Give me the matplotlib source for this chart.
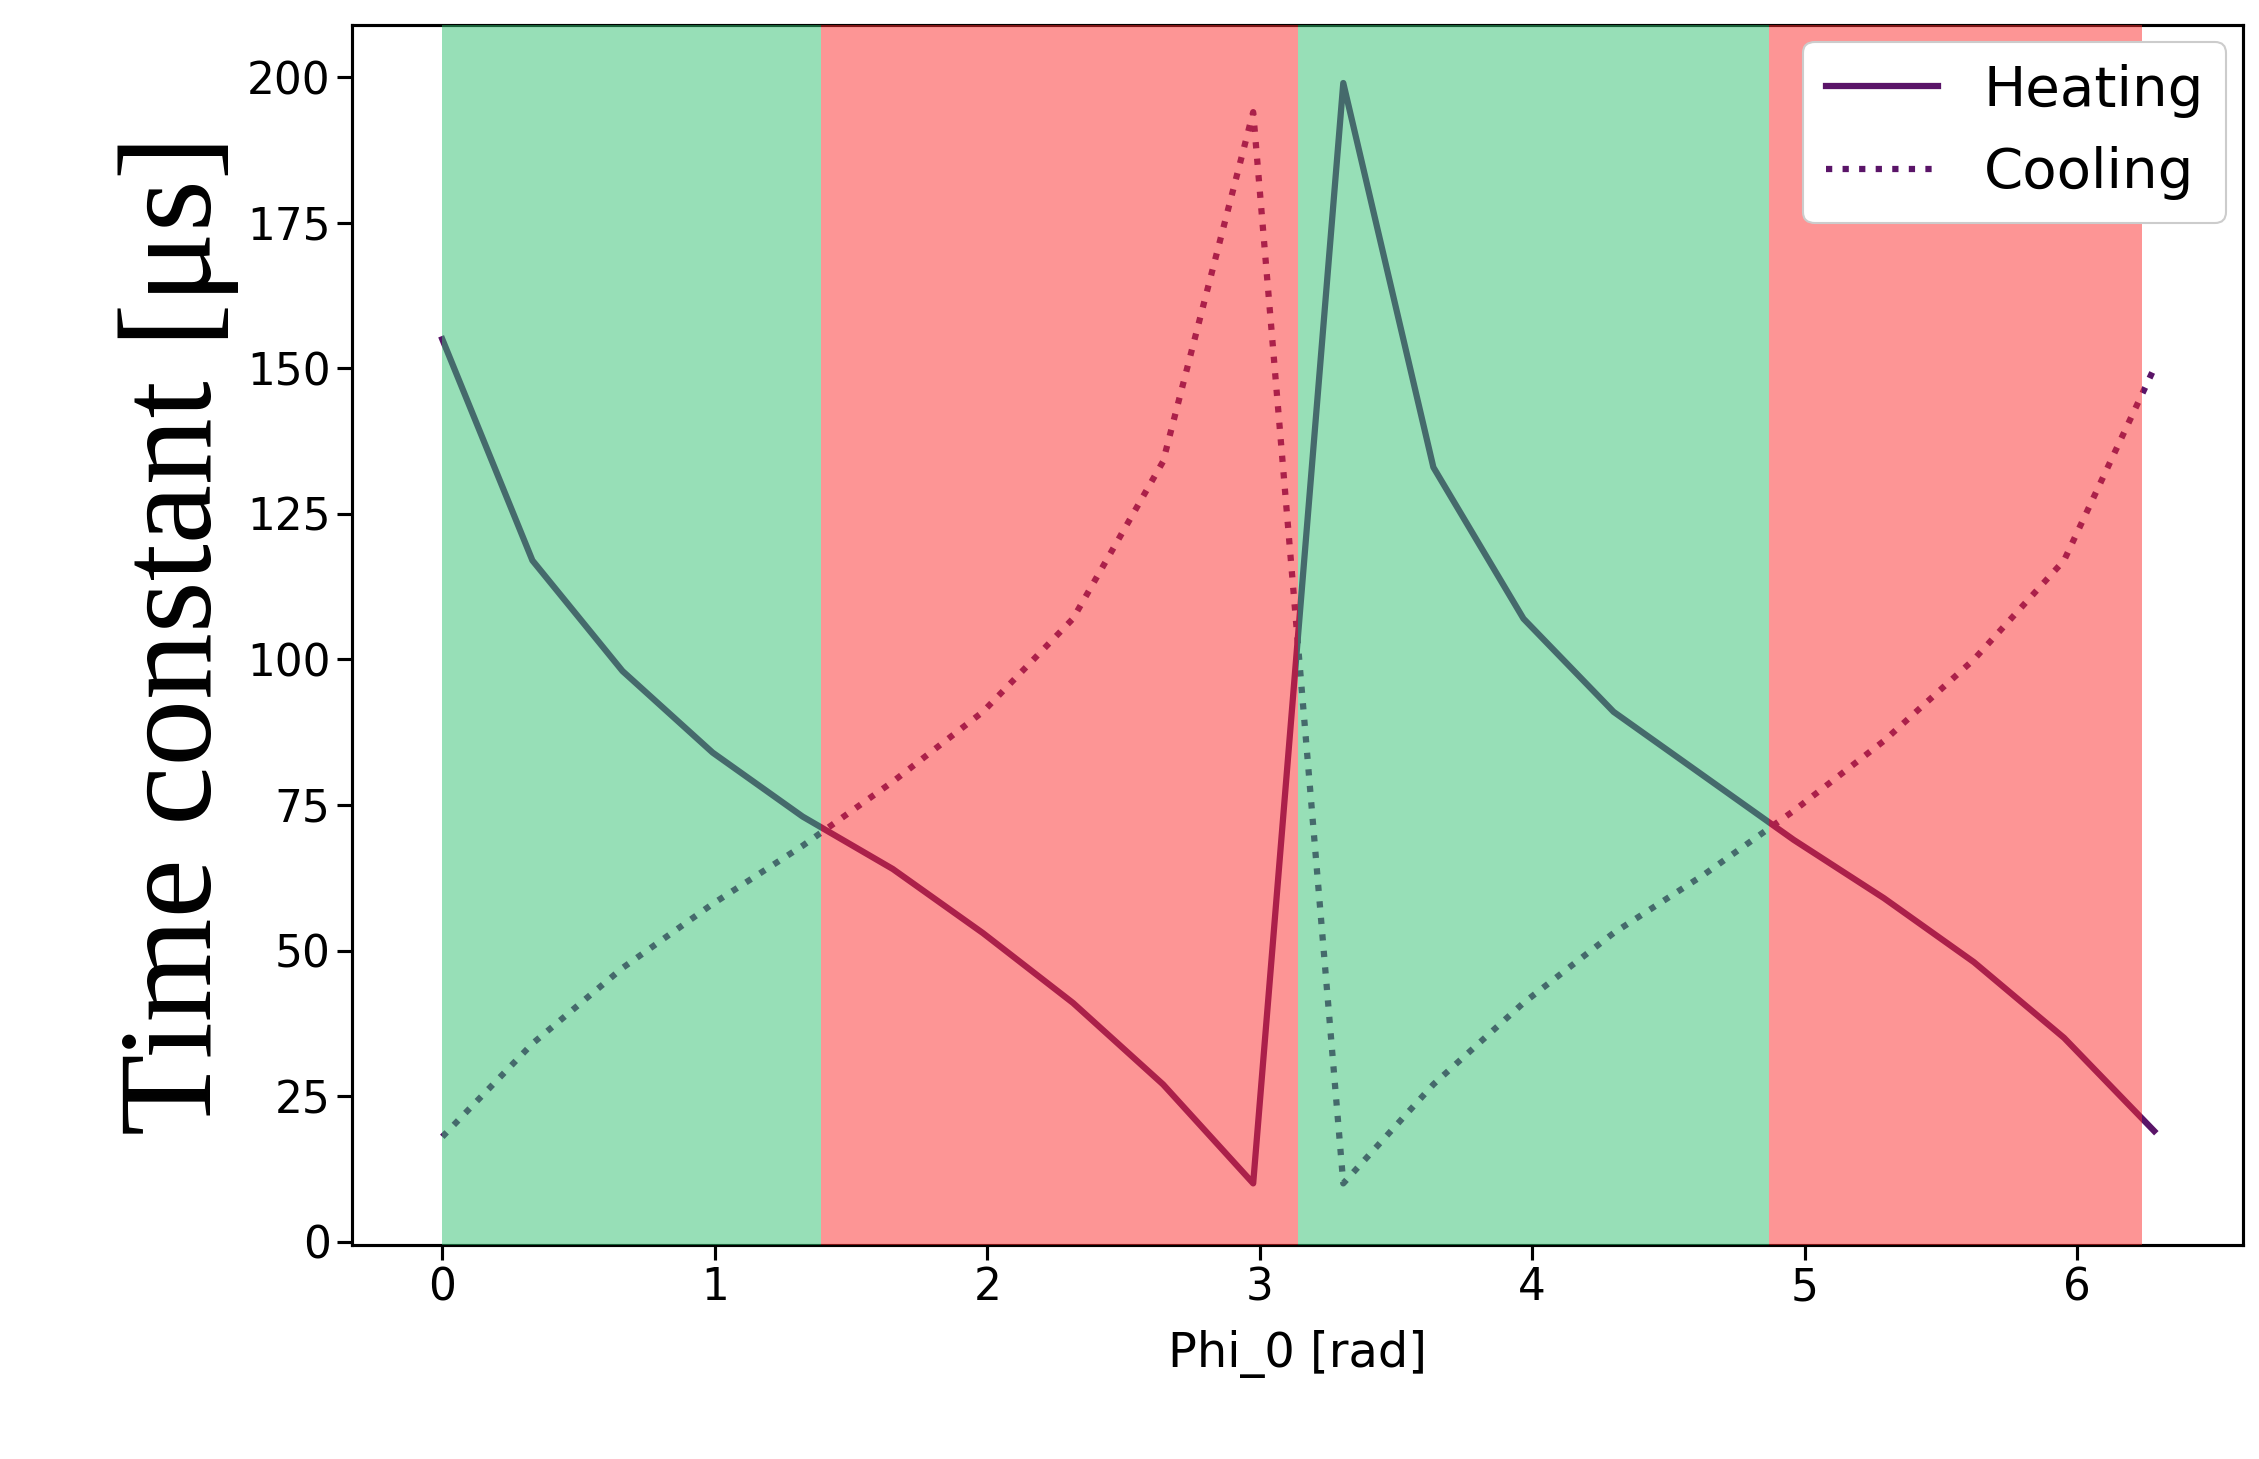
import numpy as np
import matplotlib.pyplot as plt

phi = np.linspace(0, 2 * np.pi, 20)
heating = [155, 117, 98, 84, 73, 64, 53, 41, 27, 10,
           199, 133, 107, 91, 80, 69, 59, 48, 35, 19]
cooling = [18, 34, 47, 58, 68, 79, 91, 107, 134, 194,
           10, 27, 41, 53, 63, 74, 86, 100, 117, 150]

green_spans = [(0, 1.39), (3.14, 4.87)]
red_spans = [(1.39, 3.14), (4.87, 6.24)]

fig = plt.figure(figsize=(2259 / 150, 1459 / 150), dpi=150)
ax = fig.add_axes([0.156, 0.147, 0.837, 0.836])

ax.plot(phi, heating, color='#5a1468', lw=3, label='Heating', zorder=2)
ax.plot(phi, cooling, color='#5a1468', lw=3, ls=':', label='Cooling', zorder=2)
# spans drawn over the lines, like the original
for a, b in green_spans:
    ax.axvspan(a, b, color='#31c171', alpha=0.5, lw=0, zorder=3)
for a, b in red_spans:
    ax.axvspan(a, b, color='#fd2d2d', alpha=0.5, lw=0, zorder=3)

ax.set_xlim(-0.33, 6.61)
ax.set_ylim(-0.5, 209)
ax.set_yticks(range(0, 201, 25))
ax.tick_params(labelsize=21, length=7, width=1.5)
for s in ax.spines.values():
    s.set_linewidth(1.5)
ax.set_xlabel('Phi_0 [rad]', fontsize=23, labelpad=10)
ax.set_ylabel('Time constant [\u03bcs]', fontsize=64, family='Liberation Serif',
              labelpad=4)
leg = ax.legend(loc='upper right', fontsize=27, handlelength=2.0, framealpha=1,
                borderaxespad=0.3)
leg.set_zorder(5)

fig.savefig('out.png', dpi=150)
